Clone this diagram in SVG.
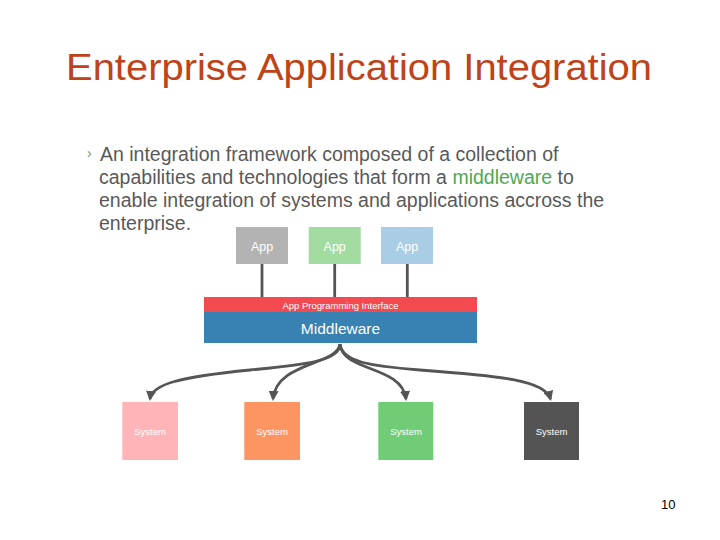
<svg xmlns="http://www.w3.org/2000/svg" width="720" height="540" viewBox="0 0 720 540">
<style>
.title{font-family:"Liberation Sans",Arial,sans-serif;font-size:36px;fill:#BF4219}
.body{font-family:"Liberation Sans",Arial,sans-serif;font-size:19.5px;fill:#595959}
.lbl{font-family:"Liberation Sans",Arial,sans-serif;fill:#ffffff;text-anchor:middle}
.link{fill:none;stroke:#555555;stroke-width:2.8}
.page{font-family:"Liberation Sans",Arial,sans-serif;font-size:13px;fill:#000000}
</style>
<defs>
<marker id="ah" viewBox="0 0 10 10" refX="8" refY="5" markerWidth="3.6" markerHeight="3.6" orient="auto" markerUnits="strokeWidth">
<path d="M0,0 L10,5 L0,10 z" fill="#555555"/>
</marker>
</defs>
<rect width="720" height="540" fill="#ffffff"/>
<text class="title" x="66" y="80" textLength="586" lengthAdjust="spacingAndGlyphs">Enterprise Application Integration</text>
<g id="bullet">
<text x="87" y="158" style="font-family:'Liberation Sans',Arial,sans-serif;font-size:14px;fill:#6d9a6d">›</text>
<text class="body" x="100" y="160.5">An integration framework composed of a collection of</text>
<text class="body" x="99" y="183.8">capabilities and technologies that form a <tspan fill="#4FA84F">middleware</tspan> to</text>
<text class="body" x="99" y="207">enable integration of systems and applications accross the</text>
<text class="body" x="99" y="230.3">enterprise.</text>
</g>
<g id="connectors">
<line class="link" x1="262" y1="264" x2="262" y2="297"/>
<line class="link" x1="334.7" y1="264" x2="334.7" y2="297"/>
<line class="link" x1="407.3" y1="264" x2="407.3" y2="297"/>
<path class="link" marker-end="url(#ah)" d="M340,344 C340,362 300,365 250,370 C180,377 152,384 150,399"/>
<path class="link" marker-end="url(#ah)" d="M340,344 C338,365 276,362 273,399"/>
<path class="link" marker-end="url(#ah)" d="M340,344 C342,372 402,365 406,399"/>
<path class="link" marker-end="url(#ah)" d="M340,344 C342,362 370,366 420,370 C500,376 545,380 550.5,399"/>
</g>
<g id="app1"><rect x="236" y="227" width="52" height="37" fill="#B3B3B3"/><text class="lbl" x="262" y="251" font-size="12.5">App</text></g>
<g id="app2"><rect x="308.7" y="227" width="52" height="37" fill="#A2DCA0"/><text class="lbl" x="334.7" y="251" font-size="12.5">App</text></g>
<g id="app3"><rect x="381" y="227" width="52" height="37" fill="#A8CDE4"/><text class="lbl" x="407" y="251" font-size="12.5">App</text></g>
<g id="api"><rect x="204" y="297" width="273" height="15" fill="#F24A4F"/><text class="lbl" x="340.5" y="308.5" font-size="9.5">App Programming Interface</text></g>
<g id="middleware"><rect x="204" y="312" width="273" height="31" fill="#3781B3"/><text class="lbl" x="340.5" y="334" font-size="15.5">Middleware</text></g>
<g id="system1"><rect x="122.3" y="402" width="55.7" height="58" fill="#FFB4B8"/><text class="lbl" x="150" y="435" font-size="9.5">System</text></g>
<g id="system2"><rect x="244.3" y="402" width="55.7" height="58" fill="#FC9562"/><text class="lbl" x="272" y="435" font-size="9.5">System</text></g>
<g id="system3"><rect x="378.3" y="402" width="55" height="58" fill="#70CD75"/><text class="lbl" x="406" y="435" font-size="9.5">System</text></g>
<g id="system4"><rect x="524" y="402" width="55" height="58" fill="#545454"/><text class="lbl" x="551.5" y="435" font-size="9.5">System</text></g>
<text class="page" x="661" y="509">10</text>
</svg>
